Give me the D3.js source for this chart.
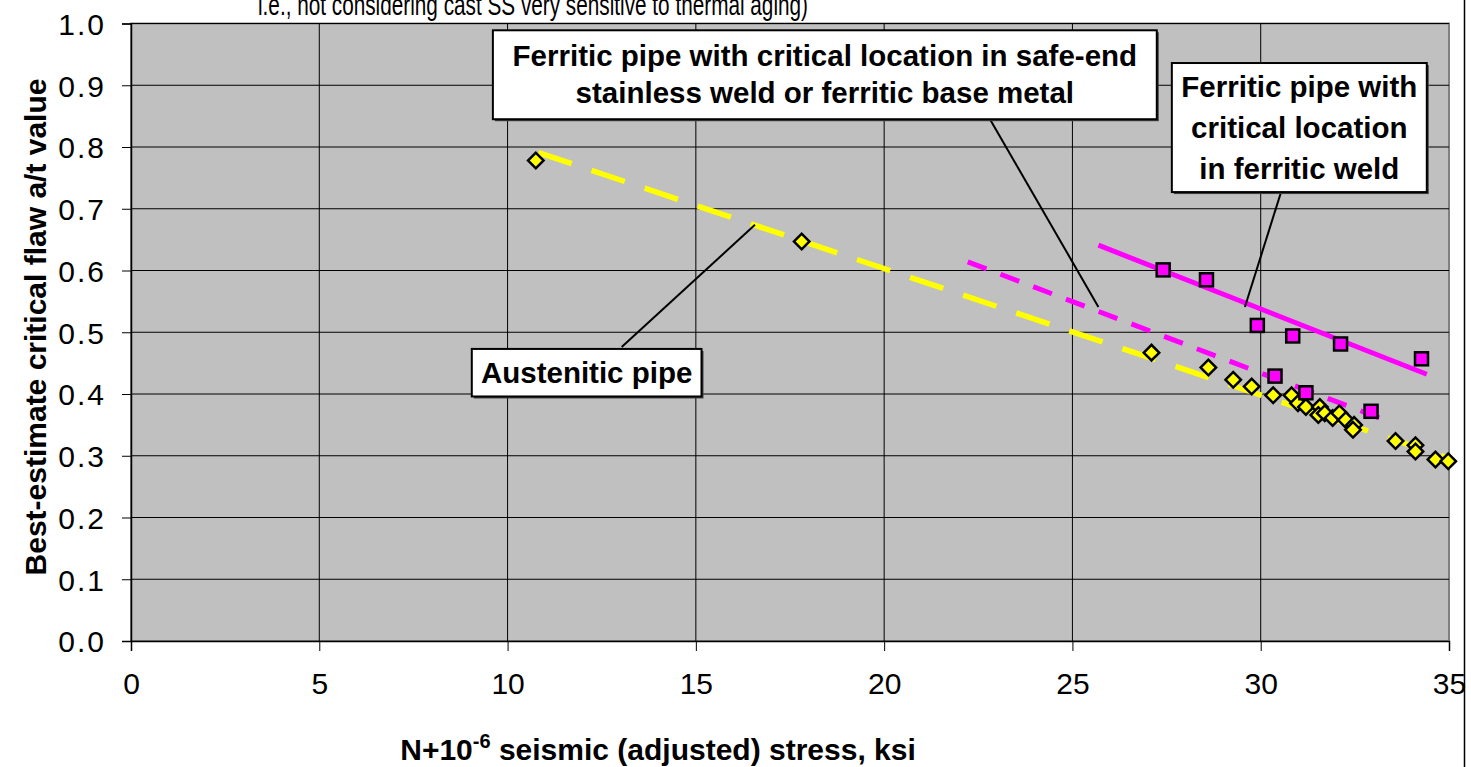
<!DOCTYPE html>
<html>
<head>
<meta charset="utf-8">
<script src="https://cdn.jsdelivr.net/npm/d3@7"></script>
<style>
  html, body { margin: 0; padding: 0; background: #fff; }
  svg { display: block; font-family: Arial, "Liberation Sans", sans-serif; }
</style>
</head>
<body>
<svg id="chart" width="1471" height="767"></svg>
<script>
// ---------------- data ----------------
const xTicks = [0, 5, 10, 15, 20, 25, 30, 35];
const yTicks = [0.0, 0.1, 0.2, 0.3, 0.4, 0.5, 0.6, 0.7, 0.8, 0.9, 1.0];

// Austenitic pipe (yellow diamonds)
const austX = [10.75, 17.81, 27.10, 28.61, 29.27, 29.76, 30.33, 30.82, 30.99, 31.20, 31.57, 31.53, 31.70, 31.91, 32.09, 32.26, 32.48, 32.45, 33.58, 34.11, 34.11, 34.64, 34.98];
const austY = [0.778, 0.647, 0.467, 0.443, 0.423, 0.412, 0.398, 0.398, 0.385, 0.379, 0.379, 0.366, 0.369, 0.361, 0.369, 0.358, 0.350, 0.342, 0.324, 0.317, 0.307, 0.294, 0.291];

// Ferritic pipe, critical location in ferritic weld (magenta squares)
const fwX = [27.41, 28.56, 29.91, 30.85, 32.12, 34.27];
const fwY = [0.601, 0.585, 0.511, 0.494, 0.481, 0.457];

// Ferritic pipe, critical location in safe-end weld / ferritic base metal (magenta squares)
const fsX = [30.38, 31.20, 32.93];
const fsY = [0.429, 0.402, 0.372];

// Trend lines (end points)
const austTrendX = [10.82, 35.0];
const austTrendY = [0.791, 0.296];
const fsTrendX = [22.22, 33.29];
const fsTrendY = [0.614, 0.358];
const fwTrendX = [25.69, 34.41];
const fwTrendY = [0.641, 0.432];

const titleText = "i.e., not considering cast SS very sensitive to thermal aging)";
const xTitleMain = "N+10";
const xTitleSup = "-6";
const xTitleRest = " seismic (adjusted) stress, ksi";
const yTitle = "Best-estimate critical flaw a/t value";

// annotation callouts: text lines, box extent (data units), leader line (data units)
const notes = [
  { lines: ["Ferritic pipe with critical location in safe-end", "stainless weld or ferritic base metal"],
    box: [9.61, 27.24, 0.989, 0.845], lead: [[22.81, 0.845], [25.69, 0.541]], lh: 37 },
  { lines: ["Ferritic pipe with", "critical location", "in ferritic weld"],
    box: [27.64, 34.41, 0.936, 0.727], lead: [[30.54, 0.727], [29.58, 0.541]], lh: 41 },
  { lines: ["Austenitic pipe"],
    box: [9.05, 15.15, 0.473, 0.396], lead: [[13.03, 0.476], [16.57, 0.674]], lh: 0 }
];

// ---------------- layout ----------------
const svg = d3.select("#chart");
const W = 1471, H = 767;
const L = 131, R = 1449, T = 23.5, B = 641;

const x = d3.scaleLinear().domain([0, 35]).range([L, R]);
const y = d3.scaleLinear().domain([0, 1]).range([B, T]);

svg.append("rect").attr("width", W).attr("height", H).attr("fill", "#fff");
// outer chart frame (right edge visible)
svg.append("line").attr("x1", 1464.5).attr("x2", 1464.5).attr("y1", 0).attr("y2", H)
  .attr("stroke", "#000").attr("stroke-width", 1.5);

// plot area
svg.append("rect").attr("x", L).attr("y", T).attr("width", R - L).attr("height", B - T)
  .attr("fill", "#c0c0c0").attr("stroke", "#808080").attr("stroke-width", 2);

// grid
svg.append("g").selectAll("line").data(yTicks.slice(1)).join("line")
  .attr("x1", L).attr("x2", R).attr("y1", d => y(d)).attr("y2", d => y(d))
  .attr("stroke", "#000").attr("stroke-width", 1);
svg.append("g").selectAll("line").data(xTicks.slice(1, -1)).join("line")
  .attr("y1", T).attr("y2", B).attr("x1", d => x(d)).attr("x2", d => x(d))
  .attr("stroke", "#000").attr("stroke-width", 1);

// axes
const xAxis = d3.axisBottom(x).tickValues(xTicks).tickSize(10).tickPadding(22).tickFormat(d3.format("d"));
const yAxis = d3.axisLeft(y).tickValues(yTicks).tickSize(9).tickPadding(16).tickFormat(d3.format(".1f"));
const gx = svg.append("g").attr("transform", `translate(0,${B})`).call(xAxis);
const gy = svg.append("g").attr("transform", `translate(${L},0)`).call(yAxis);
[gx, gy].forEach(g => {
  g.select(".domain").attr("stroke", "#000").attr("stroke-width", 1.5);
  g.selectAll(".tick line").attr("stroke", "#000").attr("stroke-width", 1);
  g.selectAll(".tick text").attr("fill", "#000").attr("font-size", 30)
    .attr("font-family", "Arial, 'Liberation Sans', sans-serif");
});
gy.selectAll(".tick text").attr("dy", "0.36em").attr("letter-spacing", 2);

// title (clipped at top)
svg.append("text").attr("x", 258).attr("y", 15).attr("font-size", 30)
  .attr("textLength", 550).attr("lengthAdjust", "spacingAndGlyphs")
  .attr("fill", "#000").text(titleText);

// axis titles
const xt = svg.append("text").attr("x", 658).attr("y", 760).attr("text-anchor", "middle")
  .attr("font-size", 30).attr("font-weight", "bold").attr("fill", "#000");
xt.append("tspan").text(xTitleMain);
xt.append("tspan").attr("font-size", 20).attr("dy", -12).text(xTitleSup);
xt.append("tspan").attr("dy", 12).text(xTitleRest);

svg.append("text").attr("transform", `translate(46,327) rotate(-90)`).attr("text-anchor", "middle")
  .attr("font-size", 30).attr("font-weight", "bold").attr("fill", "#000").text(yTitle);

// trend lines
const line = d3.line().x(d => x(d[0])).y(d => y(d[1]));
const zip = (a, b) => a.map((v, i) => [v, b[i]]);
svg.append("path").datum(zip(austTrendX, austTrendY)).attr("d", line)
  .attr("fill", "none").attr("stroke", "#ffff00").attr("stroke-width", 5.5).attr("stroke-dasharray", "35,21");
svg.append("path").datum(zip(fsTrendX, fsTrendY)).attr("d", line)
  .attr("fill", "none").attr("stroke", "#ff00ff").attr("stroke-width", 5).attr("stroke-dasharray", "20,15");
svg.append("path").datum(zip(fwTrendX, fwTrendY)).attr("d", line)
  .attr("fill", "none").attr("stroke", "#ff00ff").attr("stroke-width", 5);

// markers
const diamond = d3.symbol().type(d3.symbolSquare).size(120);
svg.append("g").selectAll("path").data(zip(austX, austY)).join("path")
  .attr("d", diamond)
  .attr("transform", d => `translate(${x(d[0])},${y(d[1])}) rotate(45)`)
  .attr("fill", "#ffff00").attr("stroke", "#000").attr("stroke-width", 2.5);

const sq = 13;
svg.append("g").selectAll("rect").data(zip(fwX, fwY).concat(zip(fsX, fsY))).join("rect")
  .attr("x", d => x(d[0]) - sq / 2).attr("y", d => y(d[1]) - sq / 2)
  .attr("width", sq).attr("height", sq)
  .attr("fill", "#ff00ff").attr("stroke", "#000").attr("stroke-width", 2.5);

// callouts
notes.forEach(n => {
  svg.append("line")
    .attr("x1", x(n.lead[0][0])).attr("y1", y(n.lead[0][1]))
    .attr("x2", x(n.lead[1][0])).attr("y2", y(n.lead[1][1]))
    .attr("stroke", "#000").attr("stroke-width", 2);
  const bx0 = x(n.box[0]), bx1 = x(n.box[1]), by0 = y(n.box[2]), by1 = y(n.box[3]);
  svg.append("rect").attr("x", bx0 + 2).attr("y", by0 + 2).attr("width", bx1 - bx0).attr("height", by1 - by0)
    .attr("fill", "#404040");
  svg.append("rect").attr("x", bx0).attr("y", by0).attr("width", bx1 - bx0).attr("height", by1 - by0)
    .attr("fill", "#fff").attr("stroke", "#000").attr("stroke-width", 2);
  const cx = (bx0 + bx1) / 2, cy = (by0 + by1) / 2;
  const nL = n.lines.length;
  n.lines.forEach((t, i) => {
    svg.append("text").attr("x", cx).attr("y", cy + (i - (nL - 1) / 2) * n.lh + 10)
      .attr("text-anchor", "middle").attr("font-size", 29.5).attr("font-weight", "bold")
      .attr("fill", "#000").text(t);
  });
});
</script>
</body>
</html>
